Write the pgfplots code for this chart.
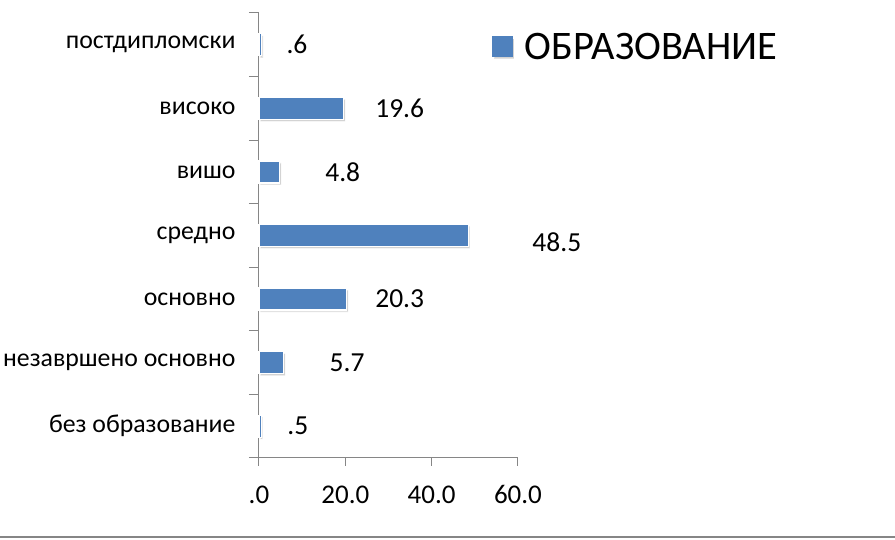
\documentclass[border=0pt]{standalone}
\usepackage{fontspec}
\setmainfont{Carlito}
\usepackage{pgfplots}
\pgfplotsset{compat=1.18}
\usetikzlibrary{shadows}
\definecolor{barblue}{HTML}{4F81BD}
\definecolor{axisgray}{HTML}{868686}

\begin{document}
\begin{tikzpicture}[x=1pt,y=1pt]
\useasboundingbox (0,0) rectangle (895,540);
\draw[axisgray, line width=1.5pt] (0,3) -- (895,3);
\begin{axis}[
    at={(259pt,82pt)}, anchor=south west,
    scale only axis,
    width=259pt, height=445pt,
    xbar, bar width=22pt,
    xmin=0, xmax=60,
    ymin=-0.5, ymax=6.5,
    axis x line*=bottom,
    axis y line*=left,
    axis line style={axisgray, line width=1pt},
    xtick={0,20,40,60},
    xticklabels={.0,20.0,40.0,60.0},
    ytick={0,...,6},
    yticklabels={без образование, незавршено основно, основно, средно, вишо, високо, постдипломски},
    minor ytick={-0.5,0.5,...,6.5},
    major y tick style={draw=none},
    minor y tick style={axisgray, line width=1pt},
    major x tick style={axisgray, line width=1pt},
    tick align=outside,
    major tick length=8pt, minor tick length=10pt,
    x tick label style={font=\fontsize{27}{30}\selectfont, yshift=-16pt},
    y tick label style={font=\fontsize{25.8}{30}\selectfont, xshift=-12pt},
    clip=false,
    legend style={draw=none, fill=none, inner sep=0pt, at={(0.9,0.924)}, anchor=west,
        font=\fontsize{40.5}{44}\selectfont},
    legend image code/.code={\fill[barblue] (0pt,-10pt) rectangle (20pt,10pt);},
    legend style={nodes={inner xsep=11pt}},
]
\addplot[fill=barblue, draw=white, line width=1.2pt,
    drop shadow={shadow xshift=1.5pt, shadow yshift=-2pt, opacity=0.35}]
coordinates {
    (0.5,0) (5.7,1) (20.3,2) (48.5,3) (4.8,4) (19.6,5) (0.6,6)
};
\addlegendentry{ОБРАЗОВАНИЕ}

\begin{scope}[font=\fontsize{27.5}{30}\selectfont]
\node at (axis cs:9.0,0) {.5};
\node at (axis cs:20.4,1) {5.7};
\node at (axis cs:32.6,2) {20.3};
\node at (axis cs:69,2.9) {48.5};
\node at (axis cs:19.4,4) {4.8};
\node at (axis cs:32.6,5) {19.6};
\node at (axis cs:8.8,6) {.6};
\end{scope}
\end{axis}
\end{tikzpicture}
\end{document}
